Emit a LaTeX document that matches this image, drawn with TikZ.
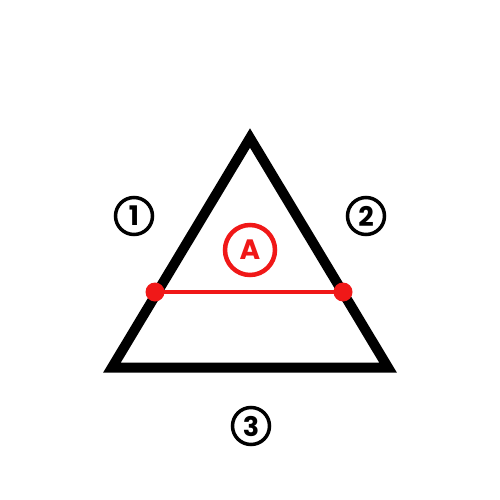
\documentclass[tikz,border=0pt]{standalone}
\usepackage{fontspec}
\setmainfont{Poppins}[BoldFont={* Bold}]
\definecolor{myred}{RGB}{240,24,24}
\begin{document}
\begin{tikzpicture}[x=1pt,y=-1pt,
  numlabel/.style={circle,draw=black,line width=3.5pt,minimum size=37pt,inner sep=0pt,font=\fontsize{27}{27}\selectfont\bfseries},
  redlabel/.style={circle,draw=myred,text=myred,line width=4.5pt,minimum size=50pt,inner sep=0pt,font=\fontsize{28}{28}\selectfont\bfseries},
  dot/.style={circle,fill=myred,minimum size=19pt,inner sep=0pt}]
\useasboundingbox[fill=white] (0,0) rectangle (500,500);
\coordinate (top) at (250,138);
\coordinate (bl) at (112,367.5);
\coordinate (br) at (388,367.5);
\draw[line width=10pt,line join=miter] (top) -- (bl) -- (br) -- cycle;
\node[dot] (p) at (155,292) {};
\node[dot] (q) at (343,292) {};
\draw[myred,line width=4pt] (p.center) -- (q.center);
\node[redlabel] (a) at (250,250) {A};
\node[numlabel] (n1) at (134,216) {1};
\node[numlabel] (n2) at (366,216) {2};
\node[numlabel] (n3) at (251,426) {3};
\end{tikzpicture}
\end{document}
